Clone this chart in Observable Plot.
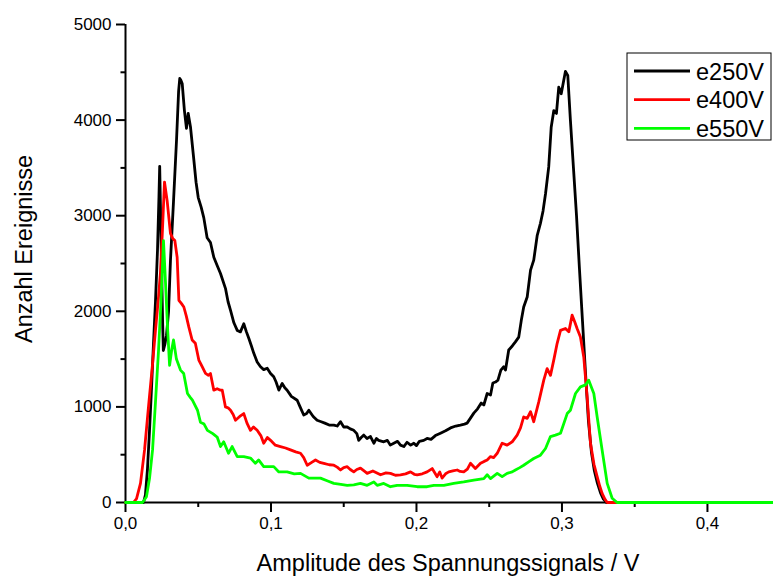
<!DOCTYPE html>
<html><head><meta charset="utf-8">
<script src="https://cdn.jsdelivr.net/npm/d3@7"></script>
<script src="https://cdn.jsdelivr.net/npm/@observablehq/plot@0.6"></script>
<style>html,body{margin:0;padding:0;background:#fff}svg{display:block}</style>
</head><body><div id="chart"></div>
<script>
const series = ["e250V", "e400V", "e550V"];
const colors = ["#000000", "#ff0000", "#00ff00"];

const x250 = [0,0.0124,0.0137,0.0151,0.0165,0.0179,0.0192,0.0206,0.0220,0.0230,0.0235,0.0245,0.0255,0.0260,0.0270,0.0282,0.0296,0.0309,0.0330,0.0351,0.0365,0.0373,0.0380,0.0390,0.0405,0.0419,0.0431,0.0447,0.0470,0.0485,0.0500,0.0520,0.0538,0.0561,0.0584,0.0607,0.0630,0.0653,0.0687,0.0705,0.0722,0.0745,0.0768,0.0790,0.0813,0.0830,0.0848,0.0865,0.0882,0.0905,0.0928,0.0950,0.0974,0.0997,0.1019,0.1035,0.1054,0.1077,0.1095,0.1111,0.1140,0.1180,0.1200,0.1225,0.1245,0.1260,0.1290,0.1317,0.1345,0.1370,0.1400,0.1432,0.1455,0.1478,0.1500,0.1524,0.1545,0.1569,0.1590,0.1603,0.1620,0.1638,0.1660,0.1684,0.1707,0.1725,0.1740,0.1775,0.1800,0.1820,0.1844,0.1870,0.1890,0.1913,0.1935,0.1960,0.1982,0.2000,0.2020,0.2050,0.2073,0.2100,0.2130,0.2165,0.2200,0.2234,0.2270,0.2302,0.2330,0.2348,0.2370,0.2394,0.2420,0.2445,0.2463,0.2486,0.2509,0.2525,0.2543,0.2560,0.2580,0.2600,0.2612,0.2634,0.2660,0.2680,0.2703,0.2720,0.2737,0.2761,0.2784,0.2806,0.2830,0.2852,0.2870,0.2887,0.2909,0.2926,0.2944,0.2962,0.2978,0.2995,0.3012,0.3024,0.3040,0.3058,0.3079,0.3100,0.3120,0.3141,0.3162,0.3182,0.3203,0.3223,0.3244,0.3265,0.3285,0.3306,0.4454];
const y250 = [0,0,80,350,750,1200,1650,2100,2640,3200,3516,2700,1900,1590,1650,1750,2000,2530,3150,3800,4300,4436,4420,4380,4100,3913,4070,3925,3580,3350,3190,3090,2980,2770,2720,2565,2480,2395,2240,2100,2010,1880,1800,1785,1870,1790,1715,1640,1560,1470,1420,1390,1405,1350,1315,1260,1175,1245,1200,1175,1110,1070,1000,915,930,965,900,860,845,830,810,810,800,845,790,790,770,755,720,650,680,705,670,690,620,670,650,635,650,600,620,640,600,585,630,600,620,595,640,650,670,660,700,725,750,780,800,810,820,830,880,935,980,1040,1020,1140,1125,1250,1260,1280,1385,1420,1385,1595,1640,1680,1730,1900,2045,2150,2430,2535,2795,2920,3050,3230,3510,3925,4100,4070,4345,4275,4415,4510,4467,4000,3500,3000,2450,1900,1350,850,520,330,200,100,35,0,0];

const x400 = [0,0.0055,0.0076,0.0103,0.0131,0.0158,0.0186,0.0206,0.0227,0.0240,0.0254,0.0268,0.0286,0.0309,0.0325,0.0339,0.0355,0.0367,0.0385,0.0401,0.0418,0.0435,0.0458,0.0480,0.0504,0.0527,0.0550,0.0570,0.0584,0.0607,0.0630,0.0653,0.0665,0.0687,0.0705,0.0722,0.0740,0.0756,0.0785,0.0813,0.0835,0.0859,0.0880,0.0905,0.0930,0.0950,0.0975,0.0997,0.1030,0.1065,0.1100,0.1134,0.1170,0.1203,0.1225,0.1249,0.1280,0.1306,0.1335,0.1363,0.1400,0.1432,0.1455,0.1478,0.1500,0.1524,0.1545,0.1569,0.1590,0.1615,0.1640,0.1661,0.1700,0.1753,0.1790,0.1821,0.1855,0.1890,0.1925,0.1959,0.1985,0.2005,0.2040,0.2073,0.2108,0.2142,0.2160,0.2176,0.2200,0.2222,0.2250,0.2280,0.2300,0.2325,0.2350,0.2371,0.2405,0.2440,0.2465,0.2486,0.2509,0.2530,0.2555,0.2589,0.2623,0.2658,0.2692,0.2715,0.2737,0.2761,0.2784,0.2806,0.2841,0.2875,0.2898,0.2921,0.2945,0.2967,0.2990,0.3024,0.3047,0.3070,0.3090,0.3104,0.3127,0.3150,0.3173,0.3196,0.3220,0.3242,0.3260,0.3276,0.3295,0.3311,0.4454];
const y400 = [0,0,40,200,550,1000,1450,1800,2150,2400,2850,3352,3160,2815,2760,2740,2565,2115,2080,2045,1950,1837,1700,1665,1490,1420,1350,1330,1350,1175,1190,1175,1175,1000,990,965,920,860,900,930,830,755,790,755,700,620,680,650,600,585,570,550,530,515,470,390,420,445,420,410,395,390,370,340,365,375,345,320,345,360,330,305,330,290,310,305,285,290,300,320,295,290,300,320,355,270,320,255,300,320,330,340,325,320,350,410,355,410,430,445,480,470,515,620,600,635,705,780,895,880,950,845,1055,1280,1400,1330,1500,1665,1800,1820,1785,1960,1880,1820,1730,1520,1105,620,400,270,170,95,35,0,0];

const x550 = [0,0.0117,0.0144,0.0165,0.0186,0.0206,0.0227,0.0244,0.0261,0.0275,0.0290,0.0303,0.0318,0.0330,0.0350,0.0378,0.0400,0.0426,0.0445,0.0460,0.0495,0.0515,0.0540,0.0563,0.0600,0.0630,0.0653,0.0675,0.0708,0.0733,0.0768,0.0813,0.0859,0.0893,0.0915,0.0950,0.1019,0.1054,0.1111,0.1160,0.1203,0.1260,0.1340,0.1390,0.1432,0.1480,0.1524,0.1569,0.1615,0.1661,0.1707,0.1730,0.1775,0.1821,0.1867,0.1936,0.2005,0.2073,0.2119,0.2188,0.2256,0.2325,0.2394,0.2440,0.2463,0.2486,0.2509,0.2555,0.2589,0.2623,0.2658,0.2680,0.2710,0.2737,0.2771,0.2806,0.2852,0.2887,0.2921,0.2955,0.2990,0.3036,0.3058,0.3093,0.3127,0.3162,0.3184,0.3219,0.3242,0.3276,0.3311,0.3345,0.3379,0.4454];
const y550 = [0,0,60,250,550,1050,1590,2100,2740,2300,1800,1435,1600,1700,1500,1385,1350,1140,1100,1070,965,840,820,755,720,685,585,635,515,585,480,480,465,410,445,375,375,320,320,300,305,255,255,225,200,190,180,185,200,180,215,180,200,165,180,180,165,165,180,180,200,215,235,245,250,290,250,305,270,305,320,340,365,390,425,460,495,565,690,705,725,930,965,1140,1210,1230,1280,1140,895,550,200,45,0,0];

const xTicks = [0, 0.1, 0.2, 0.3, 0.4];
const xMinorTicks = [0.05, 0.15, 0.25, 0.35];
const yTicks = [0, 1000, 2000, 3000, 4000, 5000];
const yMinorTicks = [500, 1500, 2500, 3500, 4500];
const xTitle = "Amplitude des Spannungssignals / V";
const yTitle = "Anzahl Ereignisse";

const data = [];
[[x250, y250], [x400, y400], [x550, y550]].forEach(([xs, ys], i) => {
  xs.forEach((x, j) => data.push({series: series[i], x, y: ys[j]}));
});

const W = 773, H = 577, mL = 125, mR = 0, mT = 24, mB = 75;
const font = "'Liberation Sans', Arial, sans-serif";
const titleSize = "23.5px";

const plot = Plot.plot({
  width: W, height: H,
  marginLeft: mL, marginRight: mR, marginTop: mT, marginBottom: mB,
  style: {fontFamily: font, fontSize: "17px", color: "#000", background: "#fff", overflow: "visible"},
  x: {domain: [0, 0.4454]},
  y: {domain: [0, 5000]},
  color: {domain: series, range: colors},
  marks: [
    Plot.ruleX([0], {stroke: "#000", strokeWidth: 2}),
    Plot.ruleY([0], {stroke: "#000", strokeWidth: 2}),
    Plot.axisX(xTicks, {tickSize: 10, strokeWidth: 2, tickFormat: () => "", label: null}),
    Plot.axisY(yTicks, {tickSize: 9, strokeWidth: 2, tickFormat: () => "", label: null}),
    Plot.axisX(xMinorTicks, {tickSize: 5, strokeWidth: 2, tickFormat: () => "", label: null}),
    Plot.axisY(yMinorTicks, {tickSize: 4.5, strokeWidth: 2, tickFormat: () => "", label: null}),
    Plot.axisX(xTicks, {tickSize: 0, tickPadding: 14, tickFormat: d => d.toFixed(1).replace(".", ","), label: null, ariaLabel: "xlabels"}),
    Plot.axisY(yTicks, {tickSize: 0, tickPadding: 14, tickFormat: d => String(d), label: null, ariaLabel: "ylabels"}),
    Plot.line(data, {x: "x", y: "y", z: "series", stroke: "series", strokeWidth: 2.8, strokeLinejoin: "round"})
  ]
});

const svg = d3.select(plot);
// normalize tick label font
svg.selectAll("text")
  .style("font-family", font)
  .style("font-size", "17px")
  .style("font-weight", "normal")
  .style("font-variant", "normal")
  .attr("stroke", null)
  .attr("fill", "#000");
svg.selectAll("g").attr("font-weight", null).attr("font-variant", null);

// axis titles
svg.append("text")
  .attr("x", mL + (W - mL - mR) / 2 - 1).attr("y", H - 6)
  .attr("text-anchor", "middle")
  .style("font-family", font).style("font-size", titleSize).attr("fill", "#000")
  .text(xTitle);
svg.append("text")
  .attr("transform", `translate(32,${(mT + H - mB) / 2 - 14}) rotate(-90)`)
  .attr("text-anchor", "middle")
  .style("font-family", font).style("font-size", titleSize).attr("fill", "#000")
  .text(yTitle);

// legend
const lgX = W - 146, lgY = 53, lgW = 144, lgH = 87;
const lg = svg.append("g");
lg.append("rect").attr("x", lgX).attr("y", lgY).attr("width", lgW).attr("height", lgH)
  .attr("fill", "#fff").attr("stroke", "#000").attr("stroke-width", 1);
series.forEach((s, i) => {
  const yy = lgY + 18 + i * 28.7;
  lg.append("line").attr("x1", lgX + 7).attr("x2", lgX + 63).attr("y1", yy).attr("y2", yy)
    .attr("stroke", colors[i]).attr("stroke-width", 2.8);
  lg.append("text").attr("x", lgX + 69).attr("y", yy + 8.5)
    .attr("text-anchor", "start")
    .style("font-family", font).style("font-size", titleSize).attr("fill", "#000").text(s);
});

document.getElementById("chart").appendChild(plot);
</script>
</body></html>
